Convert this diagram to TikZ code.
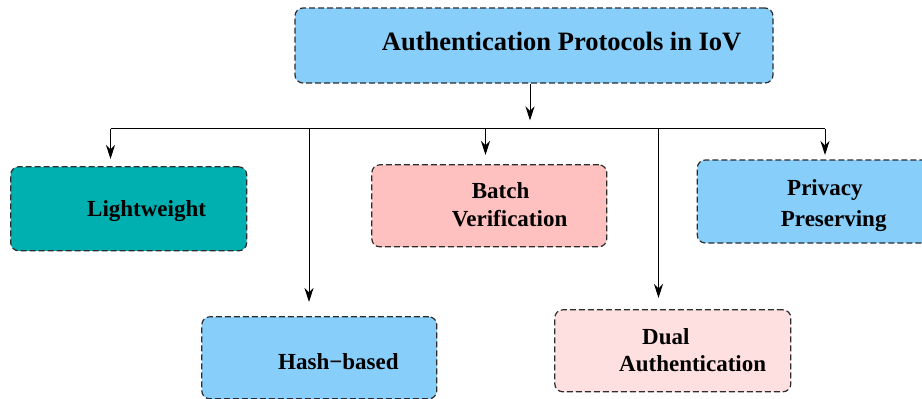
\documentclass[tikz,border=0pt]{standalone}
\usepackage{fontspec}
\setmainfont{Liberation Serif}
\usetikzlibrary{arrows.meta}

\definecolor{skyfill}{RGB}{135,206,250}
\definecolor{tealfill}{RGB}{0,176,176}
\definecolor{pinkfill}{RGB}{255,192,192}
\definecolor{palepink}{RGB}{255,224,225}
\definecolor{edgegray}{RGB}{45,45,45}

\tikzset{
  box/.style={draw=edgegray, line width=1.2pt, dash pattern=on 6pt off 3pt,
    rounded corners=8pt, rectangle, inner sep=0pt},
  lbl/.style={anchor=base west, inner sep=0pt, font=\fontsize{23}{28}\selectfont\bfseries},
  conn/.style={draw=black, line width=1pt},
  arr/.style={conn, -{Stealth[length=14pt, width=9pt, inset=4.5pt]}},
}

\begin{document}
\begin{tikzpicture}[x=1pt, y=-1pt]
\useasboundingbox (0,0) rectangle (922,399);
\clip (0,0) rectangle (922,399);

% boxes
\node[box, fill=skyfill, minimum width=478pt, minimum height=75pt] (root) at (534,45.5) {};
\node[box, fill=tealfill, minimum width=236pt, minimum height=84pt] (light) at (128.7,208.8) {};
\node[box, fill=pinkfill, minimum width=235pt, minimum height=82pt] (batch) at (489.3,205.8) {};
\node[box, fill=skyfill, minimum width=236pt, minimum height=83pt] (priv) at (815.3,201.5) {};
\node[box, fill=skyfill, minimum width=235pt, minimum height=82pt] (hash) at (319.3,357.8) {};
\node[box, fill=palepink, minimum width=236pt, minimum height=82pt] (dual) at (672.8,350.8) {};

% labels
\node[lbl, font=\fontsize{26.5}{30}\selectfont\bfseries] (tRoot) at (381.7,50) {Authentication Protocols in IoV};
\node[lbl] (tLight) at (87,216.7) {Lightweight};
\node[lbl] (tBatch1) at (471.7,198) {Batch};
\node[lbl] (tBatch2) at (451.7,226.7) {Verification};
\node[lbl] (tPriv1) at (787,195) {Privacy};
\node[lbl] (tPriv2) at (780.7,226.5) {Preserving};
\node[lbl] (tHash) at (278,369) {Hash−based};
\node[lbl] (tDual1) at (642,344) {Dual};
\node[lbl] (tDual2) at (619,371.7) {Authentication};

% bus and tap points
\coordinate (rootTip) at (530,120.5);
\coordinate (busL) at (110.5,128.5);
\coordinate (busR) at (825,128.5);
\coordinate (tapHash) at (309,128.5);
\coordinate (tapBatch) at (485.5,128.5);
\coordinate (tapDual) at (658.5,128.5);

\coordinate (tipLight) at (110.5,159);
\coordinate (tipHash) at (309,302);
\coordinate (tipBatch) at (485.5,155);
\coordinate (tipDual) at (658.5,298);
\coordinate (tipPriv) at (825,155);

% connectors
\draw[arr] (root.south -| rootTip) -- (rootTip);
\draw[conn] (busL) -- (busR);
\draw[arr] (busL) -- (tipLight);
\draw[arr] (tapHash) -- (tipHash);
\draw[arr] (tapBatch) -- (tipBatch);
\draw[arr] (tapDual) -- (tipDual);
\draw[arr] (busR) -- (tipPriv);
\end{tikzpicture}
\end{document}
